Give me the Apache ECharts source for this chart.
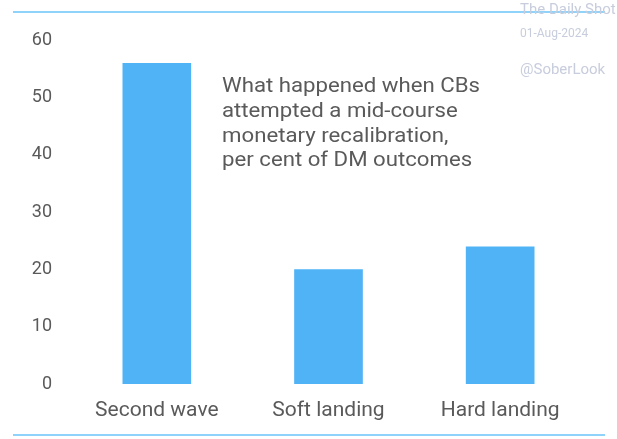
<!DOCTYPE html>
<html><head><meta charset="utf-8">
<script src="https://cdn.jsdelivr.net/npm/echarts@6/dist/echarts.min.js"></script>
<style>html,body{margin:0;padding:0;background:#fff}#c{width:617px;height:439px}</style>
</head><body><div id="c"></div>
<script>
const categories = ['Second wave', 'Soft landing', 'Hard landing'];
const values = [56, 20, 24];
const yTicks = [0, 10, 20, 30, 40, 50, 60];
const noteLines = ['What happened when CBs', 'attempted a mid-course', 'monetary recalibration,', 'per cent of DM outcomes'];
const watermark = ['The Daily Shot', '01-Aug-2024', '@SoberLook'];

const chart = echarts.init(document.getElementById('c'), null, {renderer: 'canvas'});
chart.setOption({
  animation: false,
  backgroundColor: '#ffffff',
  grid: {left: 71, right: 31, top: 40, bottom: 55, containLabel: false},
  xAxis: {
    type: 'category', data: categories,
    axisLine: {show: false}, axisTick: {show: false},
    axisLabel: {color: '#5a5a5a', fontSize: 21, fontFamily: 'Roboto', margin: 16}
  },
  yAxis: {
    type: 'value', min: yTicks[0], max: yTicks[yTicks.length - 1], interval: 10,
    splitLine: {show: false}, axisLine: {show: false}, axisTick: {show: false},
    axisLabel: {color: '#5a5a5a', fontSize: 18, fontFamily: 'Roboto', margin: 19}
  },
  series: [{
    type: 'bar', data: values, barWidth: '40%',
    itemStyle: {color: '#4fb3f6'}
  }],
  graphic: [
    {type: 'line', shape: {x1: 13, y1: 12, x2: 605, y2: 12}, style: {stroke: '#8fd2fa', lineWidth: 2}},
    {type: 'line', shape: {x1: 13, y1: 435, x2: 605, y2: 435}, style: {stroke: '#8fd2fa', lineWidth: 2}},
    {type: 'text', x: 222, y: 75, scaleX: 1.11, style: {text: noteLines.join('\n'), fill: '#5a5a5a', font: '20px Roboto', lineHeight: 24.7}},
    {type: 'text', left: 520, top: 3, style: {text: watermark[0], fill: '#c8cddd', font: '15px Roboto'}},
    {type: 'text', left: 520, top: 28, style: {text: watermark[1], fill: '#c8cddd', font: '12px Roboto'}},
    {type: 'text', left: 520, top: 63, style: {text: watermark[2], fill: '#c8cddd', font: '15px Roboto'}}
  ]
});
</script></body></html>
